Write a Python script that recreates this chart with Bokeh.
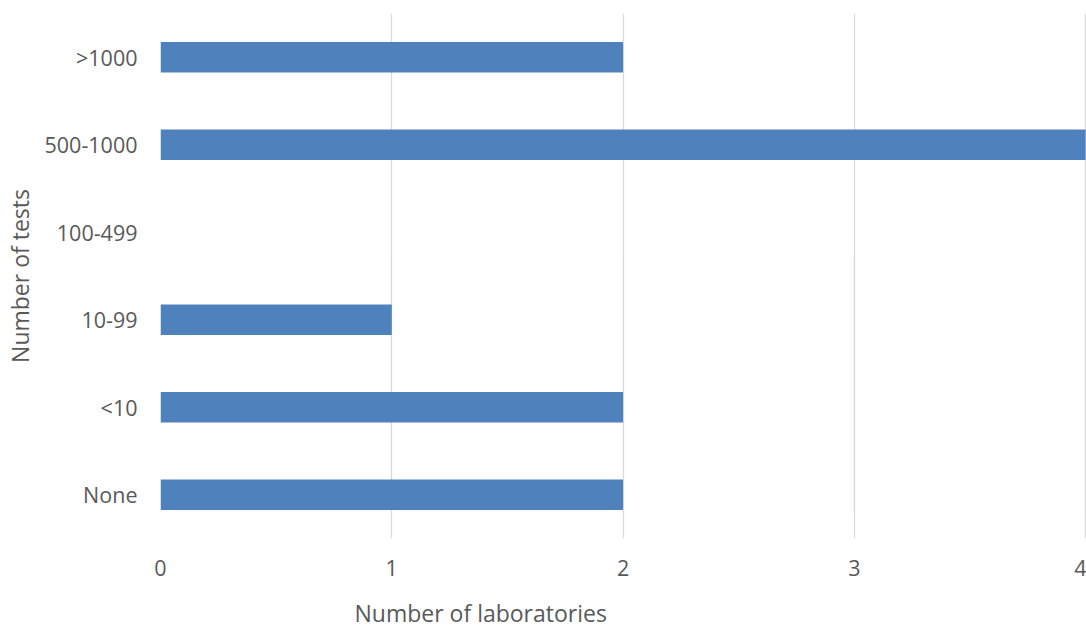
from bokeh.plotting import figure
from bokeh.models import FactorRange, Range1d, FixedTicker, Title
from bokeh.embed import file_html
from bokeh.resources import INLINE

# Survey results: number of tests per laboratory bracket
categories = ["None", "<10", "10-99", "100-499", "500-1000", ">1000"]
laboratories = [2, 2, 1, 0, 4, 2]
x_ticks = [0, 1, 2, 3, 4]

FONT = "Open Sans"
TEXT = "#595959"

p = figure(
    width=1086, height=628,
    y_range=FactorRange(*categories, range_padding=0),
    x_range=Range1d(0, 4.004),
    output_backend="svg", toolbar_location=None,
    min_border_left=160, min_border_right=0,
    min_border_top=13, min_border_bottom=90,
)

p.hbar(y=categories, right=laboratories, left=0, height=0.35,
       fill_color="#4f81bd", line_color=None)

p.outline_line_color = None
p.background_fill_color = "white"
p.border_fill_color = "white"

p.ygrid.grid_line_color = None
p.xgrid.grid_line_color = "#d9d9d9"
p.xgrid.grid_line_width = 1.3

p.xaxis.ticker = FixedTicker(ticks=x_ticks)
for ax in (p.xaxis[0], p.yaxis[0]):
    ax.axis_line_color = None
    ax.major_tick_line_color = None
    ax.minor_tick_line_color = None
    ax.major_tick_in = 0
    ax.major_tick_out = 0
    ax.minor_tick_in = 0
    ax.minor_tick_out = 0
    ax.major_label_text_font = FONT
    ax.major_label_text_font_size = "21.5px"
    ax.major_label_text_color = TEXT
    ax.major_label_text_line_height = 1.0
    ax.axis_label_text_font = FONT
    ax.axis_label_text_font_size = "23px"
    ax.axis_label_text_color = TEXT
    ax.axis_label_text_font_style = "normal"
    ax.axis_label_text_line_height = 1.0

p.xaxis.major_label_standoff = 21

p.yaxis.axis_label = "Number of tests"
p.yaxis.major_label_standoff = 23
p.yaxis.axis_label_standoff = 6

# x-axis title, placed under the tick labels; top padding pushes it
# towards the bottom edge
x_title = Title(
    text="Number of laboratories", align="left", offset=194, standoff=16,
    text_font=FONT, text_font_size="23px", text_color=TEXT,
    text_font_style="normal", text_line_height=1.0,
)
if "padding" in x_title.properties():
    try:
        x_title.padding = dict(left=0, right=0, top=16, bottom=0)
        x_title.standoff = 0
    except ValueError:
        pass
p.add_layout(x_title, "below")

open("out.html", "w").write(file_html(p, INLINE))
